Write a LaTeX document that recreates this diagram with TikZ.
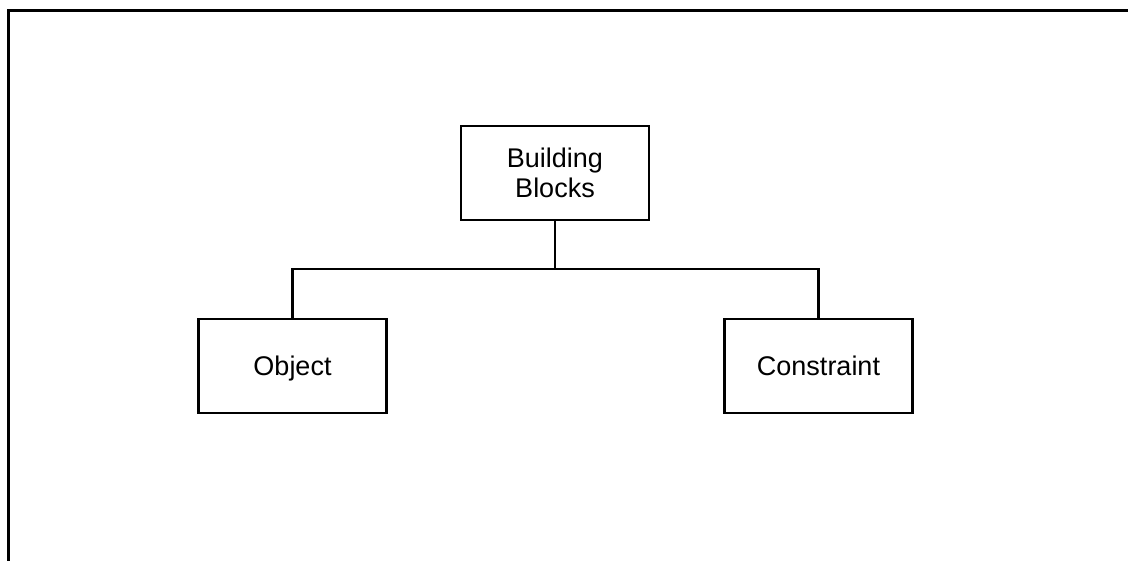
\documentclass[tikz,border=0pt]{standalone}
\usepackage{fontspec}
\setmainfont{Liberation Sans}
\begin{document}
\begin{tikzpicture}[x=1pt,y=-1pt,
  block/.style={draw=black, line width=2.3pt, rectangle, inner sep=0pt,
    minimum width=188pt, minimum height=94pt, align=center,
    font=\fontsize{27}{30}\selectfont},
  oneline/.style={text depth=0pt},
  link/.style={draw=black, line width=2.3pt}]
  \clip (0,0) rectangle (1128,560);
  \fill[white] (0,0) rectangle (1128,560);
  % outer frame, running off the right and bottom edges
  \draw[line width=2.8pt] (8.5,10.5) rectangle (1160,600);
  % blocks
  \node[block] (bb)  at (555,173)   {Building\\Blocks};
  \node[block, oneline] (obj) at (292.5,366) {Object};
  \node[block, oneline] (con) at (818.5,366) {Constraint};
  % tree connector
  \coordinate (j) at (555,269);
  \draw[link] (bb.south) -- (j);
  \draw[link] (obj.north) -- (obj.north |- j) -- (con.north |- j) -- (con.north);
\end{tikzpicture}
\end{document}
